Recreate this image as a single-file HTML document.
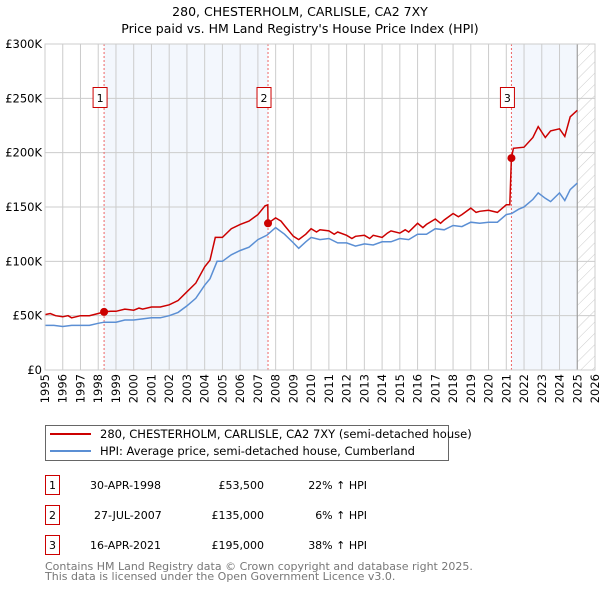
<!DOCTYPE html>
<html><head><meta charset="utf-8"><style>
body{margin:0;background:#fff;font-family:"DejaVu Sans","Liberation Sans",sans-serif;}
svg text{font-family:"DejaVu Sans","Liberation Sans",sans-serif;}
</style></head><body>
<svg id="chart" width="600" height="590" viewBox="0 0 600 590" xmlns="http://www.w3.org/2000/svg">
<defs><pattern id="hatch" patternUnits="userSpaceOnUse" width="8" height="8" patternTransform="rotate(45)"><line x1="0" y1="0" x2="0" y2="8" stroke="#ccc" stroke-width="1"/></pattern></defs>
<text x="300" y="16" text-anchor="middle" font-size="12.5">280, CHESTERHOLM, CARLISLE, CA2 7XY</text>
<text x="300" y="33" text-anchor="middle" font-size="12.5">Price paid vs. HM Land Registry's House Price Index (HPI)</text>
<g id="plot"></g>
<g>
<rect x="45.5" y="425.5" width="403" height="35" fill="#fff" stroke="#666"/>
<line x1="50" y1="434" x2="91" y2="434" stroke="#cc0000" stroke-width="2"/>
<text x="100" y="438" font-size="11.5">280, CHESTERHOLM, CARLISLE, CA2 7XY (semi-detached house)</text>
<line x1="50" y1="451" x2="91" y2="451" stroke="#5b8fd4" stroke-width="2"/>
<text x="100" y="455" font-size="11.5">HPI: Average price, semi-detached house, Cumberland</text>
</g>
<g font-size="11">
<rect x="45.5" y="475.5" width="14" height="19" fill="#fff" stroke="#cc0000"/><text x="52.5" y="489" text-anchor="middle">1</text>
<text x="90" y="489">30-APR-1998</text><text x="264" y="489" text-anchor="end">£53,500</text><text x="367" y="489" text-anchor="end">22% ↑ HPI</text>
<rect x="45.5" y="505.5" width="14" height="19" fill="#fff" stroke="#cc0000"/><text x="52.5" y="519" text-anchor="middle">2</text>
<text x="94" y="519">27-JUL-2007</text><text x="264" y="519" text-anchor="end">£135,000</text><text x="367" y="519" text-anchor="end">6% ↑  HPI</text>
<rect x="45.5" y="535.5" width="14" height="19" fill="#fff" stroke="#cc0000"/><text x="52.5" y="549" text-anchor="middle">3</text>
<text x="90" y="549">16-APR-2021</text><text x="264" y="549" text-anchor="end">£195,000</text><text x="367" y="549" text-anchor="end">38% ↑ HPI</text>
</g>
<text x="45" y="570" font-size="11" fill="#777">Contains HM Land Registry data © Crown copyright and database right 2025.</text>
<text x="45" y="580" font-size="11" fill="#777">This data is licensed under the Open Government Licence v3.0.</text>
</svg>
<script>
const yTicks=[0,50,100,150,200,250,300];
const yTickLabels=["£0","£50K","£100K","£150K","£200K","£250K","£300K"];
const xYears=[1995,1996,1997,1998,1999,2000,2001,2002,2003,2004,2005,2006,2007,2008,2009,2010,2011,2012,2013,2014,2015,2016,2017,2018,2019,2020,2021,2022,2023,2024,2025,2026];
const hpiT=[1995,1995.5,1996,1996.5,1997,1997.5,1998,1998.33,1998.7,1999,1999.5,2000,2000.5,2001,2001.5,2002,2002.5,2003,2003.5,2004,2004.3,2004.7,2005,2005.5,2006,2006.5,2007,2007.5,2008,2008.5,2009,2009.3,2009.7,2010,2010.5,2011,2011.5,2012,2012.5,2013,2013.5,2014,2014.5,2015,2015.5,2016,2016.5,2017,2017.5,2018,2018.5,2019,2019.5,2020,2020.5,2021,2021.3,2021.7,2022,2022.5,2022.8,2023.2,2023.5,2024,2024.3,2024.6,2025];
const hpiV=[41,41,40,41,41,41,43,44,44,44,46,46,47,48,48,50,53,59,66,78,84,100,100,106,110,113,120,124,131,125,117,112,118,122,120,121,117,117,114,116,115,118,118,121,120,125,125,130,129,133,132,136,135,136,136,143,144,148,150,157,163,158,155,163,156,166,172];
const priceT=[1995,1995.3,1995.6,1996,1996.3,1996.5,1997,1997.5,1998,1998.33,1998.7,1999,1999.5,2000,2000.3,2000.5,2001,2001.5,2002,2002.5,2003,2003.5,2004,2004.3,2004.6,2005,2005.5,2006,2006.5,2007,2007.4,2007.56,2007.57,2008,2008.3,2008.5,2009,2009.3,2009.7,2010,2010.3,2010.5,2011,2011.3,2011.5,2012,2012.3,2012.5,2013,2013.3,2013.5,2014,2014.3,2014.5,2015,2015.3,2015.5,2016,2016.3,2016.5,2017,2017.3,2017.5,2018,2018.3,2018.5,2019,2019.3,2019.5,2020,2020.5,2021,2021.2,2021.29,2021.4,2022,2022.5,2022.8,2023.2,2023.5,2024,2024.3,2024.6,2025];
const priceV=[51,52,50,49,50,48,50,50,52,53.5,54,54,56,55,57,56,58,58,60,64,72,80,95,101,122,122,130,134,137,143,151,152,135,140,137,133,123,120,125,130,127,129,128,125,127,124,121,123,124,121,124,122,126,128,126,129,127,135,131,134,139,135,138,144,141,143,149,145,146,147,145,152,152,195,204,205,214,224,214,220,222,215,233,239];
const sales=[{n:"1",t:1998.33,v:53.5},{n:"2",t:2007.57,v:135},{n:"3",t:2021.29,v:195}];
const X0=45,X1=595,Y0=370,Y1=44;
const xs=t=>X0+(t-1995)/(2026-1995)*(X1-X0);
const ys=v=>Y0-v/300*(Y0-Y1);
const NS="http://www.w3.org/2000/svg";
const g=document.getElementById('plot');
function mk(tag,a){const e=document.createElementNS(NS,tag);for(const k in a)e.setAttribute(k,a[k]);g.appendChild(e);return e;}
let r=mk('rect',{x:xs(sales[0].t),y:Y1,width:xs(sales[1].t)-xs(sales[0].t),height:Y0-Y1,fill:'#eef3fc',opacity:0.7});


r=mk('rect',{x:xs(sales[2].t),y:Y1,width:xs(2025)-xs(sales[2].t),height:Y0-Y1,fill:'#eef3fc',opacity:0.7});


r=mk('rect',{x:xs(2025),y:Y1,width:X1-xs(2025),height:Y0-Y1,fill:'url(#hatch)'});


yTicks.forEach((v,i)=>{
 const l=mk('line',{x1:X0,x2:X1,y1:ys(v),y2:ys(v),stroke:'#ccc','stroke-width':1});
 
 
 const t=mk('text',{x:X0-3,y:ys(v)+4,'text-anchor':'end','font-size':11.5});
 
 
 t.textContent=yTickLabels[i];
});
xYears.forEach(y=>{
 const l=mk('line',{x1:xs(y),x2:xs(y),y1:Y1,y2:Y0,stroke:'#ccc','stroke-width':1});
 
 
 const t=mk('text',{x:0,y:0,'text-anchor':'end','font-size':11.5,transform:`translate(${xs(y)+4},${Y0+4}) rotate(-90)`});
 
 
 t.textContent=y;
});
let el=mk('line',{x1:xs(2025),x2:xs(2025),y1:Y1,y2:Y0,stroke:'#999','stroke-width':1});


sales.forEach(s=>{
 const l=mk('line',{x1:xs(s.t),x2:xs(s.t),y1:Y1,y2:Y0,stroke:'#e66','stroke-width':1,'stroke-dasharray':'2,2'});
 
 
});
const pth=(T,V)=>T.map((t,i)=>(i?'L':'M')+xs(t).toFixed(1)+','+ys(V[i]).toFixed(1)).join('');
el=mk('path',{d:pth(hpiT,hpiV),fill:'none',stroke:'#5b8fd4','stroke-width':1.5});


el=mk('path',{d:pth(priceT,priceV),fill:'none',stroke:'#cc0000','stroke-width':1.5});


sales.forEach(s=>{
 const c=mk('circle',{cx:xs(s.t),cy:ys(s.v),r:4,fill:'#cc0000'});
 
 
 const b=mk('rect',{x:xs(s.t)-11,y:87.5,width:14,height:20,fill:'#fff',stroke:'#cc0000'});
 
 
 const t=mk('text',{x:xs(s.t)-4,y:102,'text-anchor':'middle','font-size':11});
 
 
 t.textContent=s.n;
});
el=mk('rect',{x:X0,y:Y1,width:X1-X0,height:Y0-Y1,fill:'none',stroke:'#ccc'});


</script>
</body></html>
